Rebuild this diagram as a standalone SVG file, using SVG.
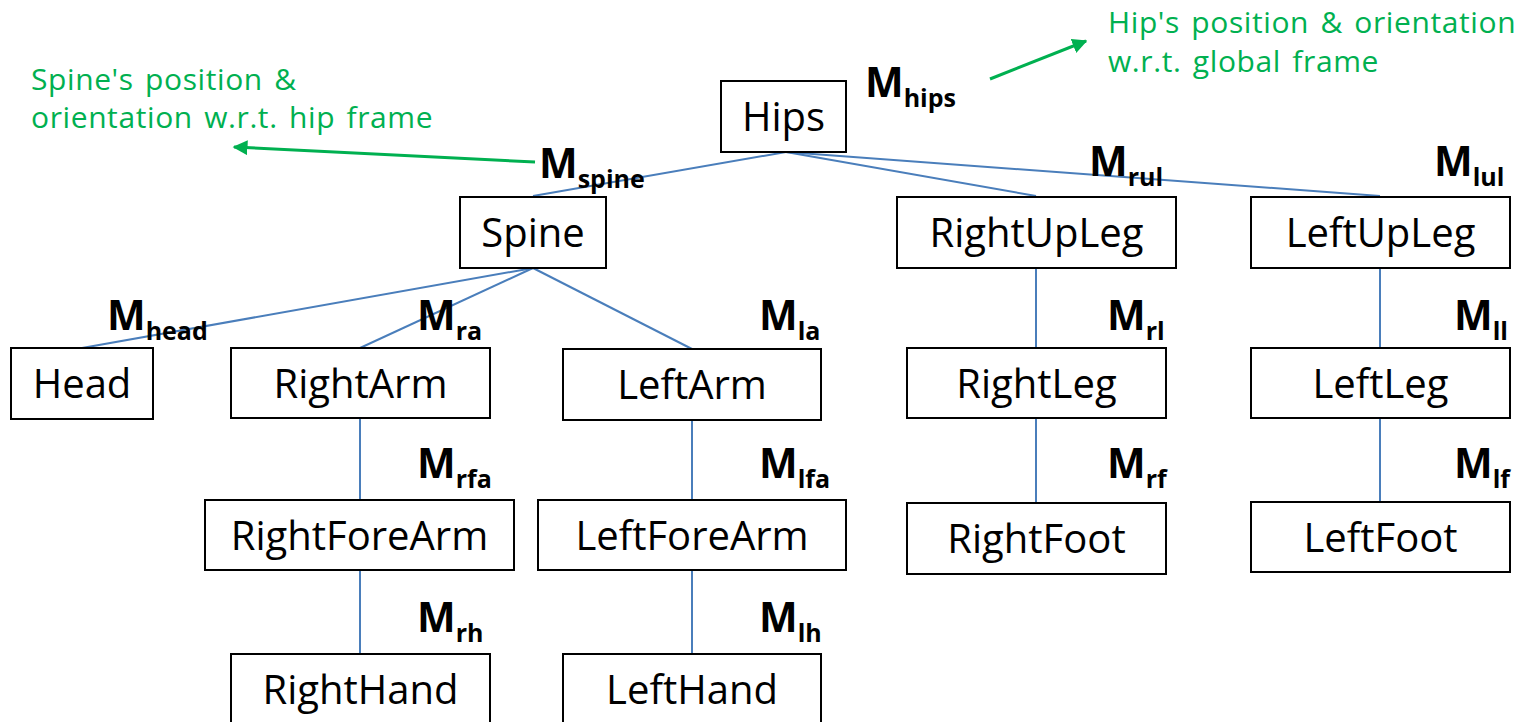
<svg xmlns="http://www.w3.org/2000/svg" width="1520" height="722" viewBox="0 0 1520 722">
  <style>
    .box { fill: #ffffff; stroke: #000000; stroke-width: 2; }
    .name { font-family: "Open Sans", "Noto Sans", sans-serif; font-size: 40px; fill: #000000; text-anchor: middle; }
    .mat { font-family: "Open Sans", "Noto Sans", sans-serif; font-weight: bold; font-size: 41px; fill: #000000; }
    .sub { font-size: 25px; }
    .edge { stroke: #4a7ebb; stroke-width: 2; fill: none; }
    .note { font-family: "Open Sans", "Noto Sans", sans-serif; font-size: 30px; letter-spacing: 0.6px; word-spacing: 3px; fill: #00b050; }
    .pointer { stroke: #00b050; stroke-width: 3; fill: none; }
  </style>
  <defs>
    <marker id="greenHead" viewBox="0 0 10 10" refX="9" refY="5" markerWidth="5" markerHeight="5" orient="auto" markerUnits="strokeWidth">
      <path d="M0,0 L10,5 L0,10 z" fill="#00b050"/>
    </marker>
  </defs>
  <rect width="1520" height="722" fill="#ffffff"/>

  <!-- skeleton hierarchy connectors -->
  <g id="connectors">
    <line class="edge" x1="786" y1="152" x2="533" y2="196"/>
    <line class="edge" x1="786" y1="152" x2="1036" y2="196"/>
    <line class="edge" x1="786" y1="152" x2="1380" y2="196"/>
    <line class="edge" x1="533" y1="268" x2="82" y2="348"/>
    <line class="edge" x1="533" y1="268" x2="360" y2="348"/>
    <line class="edge" x1="533" y1="268" x2="692" y2="349"/>
    <line class="edge" x1="360" y1="418" x2="360" y2="500"/>
    <line class="edge" x1="360" y1="570" x2="360" y2="654"/>
    <line class="edge" x1="692" y1="420" x2="692" y2="500"/>
    <line class="edge" x1="692" y1="570" x2="692" y2="654"/>
    <line class="edge" x1="1036" y1="268" x2="1036" y2="348"/>
    <line class="edge" x1="1036" y1="418" x2="1036" y2="503"/>
    <line class="edge" x1="1380" y1="268" x2="1380" y2="348"/>
    <line class="edge" x1="1380" y1="418" x2="1380" y2="502"/>
    <line class="pointer" x1="535" y1="162" x2="234" y2="147" marker-end="url(#greenHead)"/>
    <line class="pointer" x1="990" y1="79" x2="1086" y2="41" marker-end="url(#greenHead)"/>
  </g>

  <!-- joints -->
  <g id="hips"><rect class="box" x="721" y="81" width="125" height="71"/><text class="name" x="783.5" y="131">Hips</text></g>
  <g id="spine"><rect class="box" x="460" y="197" width="146" height="71"/><text class="name" x="533" y="247">Spine</text></g>
  <g id="rightUpLeg"><rect class="box" x="897" y="197" width="279" height="71"/><text class="name" x="1036.5" y="247">RightUpLeg</text></g>
  <g id="leftUpLeg"><rect class="box" x="1251" y="197" width="259" height="71"/><text class="name" x="1380.5" y="247">LeftUpLeg</text></g>
  <g id="head"><rect class="box" x="11" y="348" width="142" height="71"/><text class="name" x="82" y="398">Head</text></g>
  <g id="rightArm"><rect class="box" x="231" y="348" width="259" height="70"/><text class="name" x="360.5" y="398">RightArm</text></g>
  <g id="leftArm"><rect class="box" x="563" y="349" width="258" height="71"/><text class="name" x="692" y="399">LeftArm</text></g>
  <g id="rightLeg"><rect class="box" x="907" y="348" width="259" height="70"/><text class="name" x="1036.5" y="398">RightLeg</text></g>
  <g id="leftLeg"><rect class="box" x="1251" y="348" width="259" height="70"/><text class="name" x="1380.5" y="398">LeftLeg</text></g>
  <g id="rightForeArm"><rect class="box" x="205" y="500" width="309" height="70"/><text class="name" x="359.5" y="550">RightForeArm</text></g>
  <g id="leftForeArm"><rect class="box" x="538" y="500" width="308" height="70"/><text class="name" x="692" y="550">LeftForeArm</text></g>
  <g id="rightFoot"><rect class="box" x="907" y="503" width="259" height="71"/><text class="name" x="1036.5" y="553">RightFoot</text></g>
  <g id="leftFoot"><rect class="box" x="1251" y="502" width="259" height="70"/><text class="name" x="1380.5" y="552">LeftFoot</text></g>
  <g id="rightHand"><rect class="box" x="231" y="654" width="259" height="80"/><text class="name" x="360.5" y="704">RightHand</text></g>
  <g id="leftHand"><rect class="box" x="563" y="654" width="258" height="80"/><text class="name" x="692" y="704">LeftHand</text></g>

  <!-- transform labels -->
  <g id="labels">
    <text class="mat" x="865" y="97">M<tspan class="sub" dy="10">hips</tspan></text>
    <text class="mat" x="539" y="178">M<tspan class="sub" dy="10">spine</tspan></text>
    <text class="mat" x="1089" y="176">M<tspan class="sub" dy="10">rul</tspan></text>
    <text class="mat" x="1434" y="176">M<tspan class="sub" dy="10">lul</tspan></text>
    <text class="mat" x="107" y="330">M<tspan class="sub" dy="10">head</tspan></text>
    <text class="mat" x="417" y="330">M<tspan class="sub" dy="10">ra</tspan></text>
    <text class="mat" x="759" y="330">M<tspan class="sub" dy="10">la</tspan></text>
    <text class="mat" x="1107" y="330">M<tspan class="sub" dy="10">rl</tspan></text>
    <text class="mat" x="1454" y="330">M<tspan class="sub" dy="10">ll</tspan></text>
    <text class="mat" x="417" y="478">M<tspan class="sub" dy="10">rfa</tspan></text>
    <text class="mat" x="759" y="478">M<tspan class="sub" dy="10">lfa</tspan></text>
    <text class="mat" x="1107" y="478">M<tspan class="sub" dy="10">rf</tspan></text>
    <text class="mat" x="1454" y="478">M<tspan class="sub" dy="10">lf</tspan></text>
    <text class="mat" x="417" y="632">M<tspan class="sub" dy="10">rh</tspan></text>
    <text class="mat" x="759" y="632">M<tspan class="sub" dy="10">lh</tspan></text>
  </g>

  <!-- annotations -->
  <g id="notes">
    <text class="note" x="31" y="90">Spine's position &amp;</text>
    <text class="note" x="31" y="128">orientation w.r.t. hip frame</text>
    <text class="note" x="1108" y="33">Hip's position &amp; orientation</text>
    <text class="note" x="1108" y="72">w.r.t. global frame</text>
  </g>
</svg>
